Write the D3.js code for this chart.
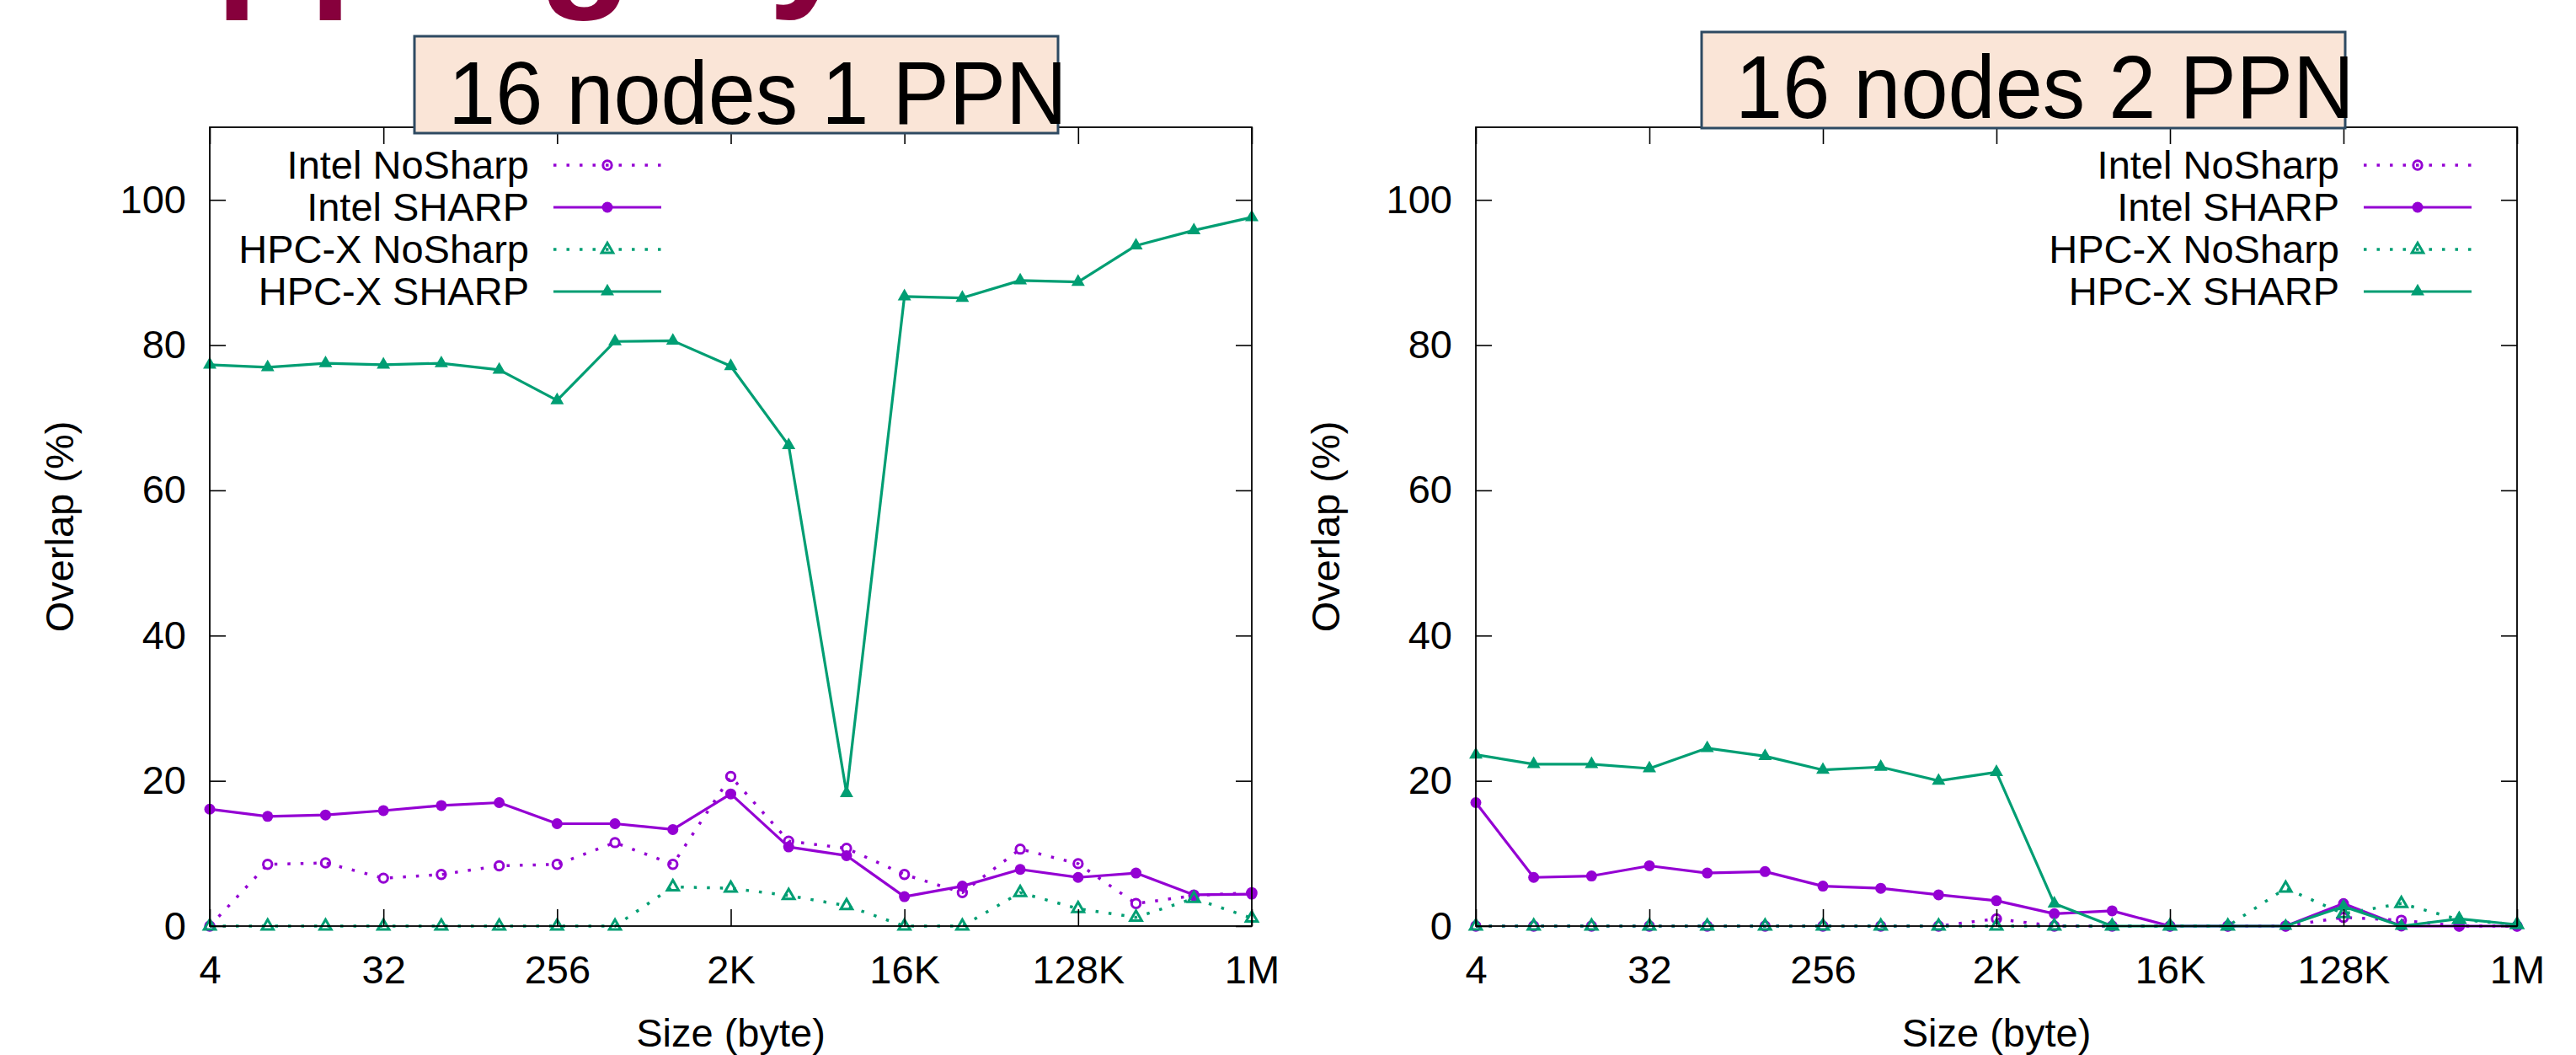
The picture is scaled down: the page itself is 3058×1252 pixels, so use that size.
<!DOCTYPE html>
<html>
<head>
<meta charset="utf-8">
<script src="https://cdn.jsdelivr.net/npm/d3@7"></script>
<style>
  body { margin: 0; background: #fff; }
  text { font-family: "Liberation Sans", Arial, Helvetica, sans-serif; }
</style>
</head>
<body>
<svg id="chart" width="3058" height="1252"></svg>
<script>
// message sizes (bytes), x axis is log2
var sizes = [4, 8, 16, 32, 64, 128, 256, 512, 1024, 2048, 4096, 8192, 16384, 32768, 65536, 131072, 262144, 524288, 1048576];
var tick_values = [4, 32, 256, 2048, 16384, 131072, 1048576];
var tick_labels = ["4", "32", "256", "2K", "16K", "128K", "1M"];
var y_ticks = [0, 20, 40, 60, 80, 100];
var series_names = ["Intel NoSharp", "Intel SHARP", "HPC-X NoSharp", "HPC-X SHARP"];

// 16 nodes 1 PPN
var intel_nosharp_1 = [0, 8.5, 8.7, 6.6, 7.1, 8.3, 8.5, 11.5, 8.5, 20.6, 11.7, 10.7, 7.1, 4.6, 10.6, 8.6, 3.1, 4.2, 4.6];
var intel_sharp_1   = [16.1, 15.1, 15.3, 15.9, 16.6, 17.0, 14.1, 14.1, 13.3, 18.2, 10.9, 9.7, 4.05, 5.5, 7.8, 6.7, 7.3, 4.3, 4.4];
var hpcx_nosharp_1  = [0, 0, 0, 0, 0, 0, 0, 0, 5.4, 5.2, 4.2, 2.8, 0, 0, 4.6, 2.4, 1.2, 3.8, 1.1];
var hpcx_sharp_1    = [77.3, 76.95, 77.5, 77.3, 77.5, 76.6, 72.4, 80.5, 80.6, 77.1, 66.2, 18.3, 86.7, 86.5, 88.9, 88.7, 93.7, 95.8, 97.6];

// 16 nodes 2 PPN
var intel_nosharp_2 = [0, 0, 0, 0, 0, 0, 0, 0, 0, 1.0, 0, 0, 0, 0, 0, 1.2, 0.8, 0, 0];
var intel_sharp_2   = [17.0, 6.7, 6.9, 8.3, 7.3, 7.5, 5.5, 5.2, 4.3, 3.5, 1.7, 2.1, 0, 0, 0, 3.1, 0, 0, 0];
var hpcx_nosharp_2  = [0, 0, 0, 0, 0, 0, 0, 0, 0, 0, 0, 0, 0, 0, 5.2, 1.7, 3.1, 0.9, 0.2];
var hpcx_sharp_2    = [23.6, 22.3, 22.3, 21.7, 24.5, 23.4, 21.5, 21.9, 20.0, 21.2, 3.1, 0, 0, 0, 0, 2.7, 0, 1.0, 0.2];

var styles = [
    { color: "#9400d3", dotted: true,  shape: "circle",   filled: false },
    { color: "#9400d3", dotted: false, shape: "circle",   filled: true },
    { color: "#009e73", dotted: true,  shape: "triangle", filled: false },
    { color: "#009e73", dotted: false, shape: "triangle", filled: true }
];

var panels = [
    { left: 249, right: 1486, title: "16 nodes 1 PPN", box: [492, 43, 764, 115], title_x: 532, title_y: 147, legend_x: 628,
      data: [intel_nosharp_1, intel_sharp_1, hpcx_nosharp_1, hpcx_sharp_1] },
    { left: 1752, right: 2988, title: "16 nodes 2 PPN", box: [2020, 38, 764, 114], title_x: 2060, title_y: 140, legend_x: 2777,
      data: [intel_nosharp_2, intel_sharp_2, hpcx_nosharp_2, hpcx_sharp_2] }
];

var top_y = 151, bottom_y = 1099;
var font_size = 47;

var svg = d3.select("#chart");

// cut-off slide heading, only the descenders reach into the picture
var hd_family = "'Liberation Sans', Arial, sans-serif";
var ctx = document.createElement("canvas").getContext("2d");
ctx.font = "bold 100px " + hd_family;
var hd_size = 111 / (ctx.measureText("p").width / 100);
ctx.font = "bold " + hd_size + "px " + hd_family;
var p_m = ctx.measureText("p");
var hd_x = 267 + p_m.actualBoundingBoxLeft - ctx.measureText("Overla").width;
var hd_y = 24 - p_m.actualBoundingBoxDescent;
svg.append("text")
    .attr("x", hd_x)
    .attr("y", hd_y)
    .attr("font-family", hd_family)
    .attr("font-size", hd_size)
    .attr("font-weight", "bold")
    .attr("fill", "#87003c")
    .text("Overlapping by");

function draw_marker(g, st, cx, cy) {
    var m;
    if (st.shape === "circle") {
        m = g.append("circle")
            .attr("cx", cx).attr("cy", cy)
            .attr("r", st.filled ? 6.5 : 5.2);
    } else {
        m = g.append("path")
            .attr("d", d3.symbol(d3.symbolTriangle, st.filled ? 110 : 80)())
            .attr("transform", "translate(" + cx + "," + cy + ")");
    }
    if (st.filled) {
        m.attr("fill", st.color).attr("stroke", "none");
    } else {
        m.attr("fill", "none").attr("stroke", st.color).attr("stroke-width", 3);
    }
}

function style_line(p, st) {
    p.attr("fill", "none")
        .attr("stroke", st.color)
        .attr("stroke-width", st.dotted ? 3.5 : 3.2)
        .attr("stroke-linejoin", "round");
    if (st.dotted) p.attr("stroke-dasharray", "3.5,12");
}

panels.forEach(function (pan) {
    var x = d3.scaleLog().base(2).domain([4, 1048576]).range([pan.left, pan.right]);
    var y = d3.scaleLinear().domain([0, 110]).range([bottom_y, top_y]);
    var g = svg.append("g");

    // series
    pan.data.forEach(function (vals, si) {
        var st = styles[si];
        var pts = sizes.map(function (s, i) { return { size: s, v: vals[i] }; });
        var line = d3.line()
            .x(function (d) { return x(d.size); })
            .y(function (d) { return y(d.v); });
        style_line(g.append("path").datum(pts).attr("d", line), st);
        pts.forEach(function (d) { draw_marker(g, st, x(d.size), y(d.v)); });
    });

    // axes, ticks pointing inward
    var ax_b = g.append("g").attr("transform", "translate(0," + bottom_y + ")")
        .call(d3.axisBottom(x).tickValues(tick_values)
            .tickFormat(function (d, i) { return tick_labels[i]; })
            .tickSizeInner(-20).tickSizeOuter(0).tickPadding(34.5));
    var ax_t = g.append("g").attr("transform", "translate(0," + top_y + ")")
        .call(d3.axisTop(x).tickValues(tick_values).tickFormat("")
            .tickSizeInner(-20).tickSizeOuter(0));
    var ax_l = g.append("g").attr("transform", "translate(" + pan.left + ",0)")
        .call(d3.axisLeft(y).tickValues(y_ticks)
            .tickSizeInner(-19).tickSizeOuter(0).tickPadding(28));
    var ax_r = g.append("g").attr("transform", "translate(" + pan.right + ",0)")
        .call(d3.axisRight(y).tickValues(y_ticks).tickFormat("")
            .tickSizeInner(-19).tickSizeOuter(0));
    [ax_b, ax_t, ax_l, ax_r].forEach(function (a) {
        a.select(".domain").remove();
        a.selectAll(".tick line").attr("stroke", "#000").attr("stroke-width", 1.6);
        a.selectAll(".tick text")
            .attr("font-size", font_size)
            .attr("font-family", "Liberation Sans, Arial, sans-serif")
            .attr("fill", "#000");
    });

    g.append("rect")
        .attr("x", pan.left).attr("y", top_y)
        .attr("width", pan.right - pan.left).attr("height", bottom_y - top_y)
        .attr("fill", "none").attr("stroke", "#000").attr("stroke-width", 1.8);

    // axis titles
    g.append("text")
        .attr("x", (pan.left + pan.right) / 2).attr("y", 1242)
        .attr("text-anchor", "middle").attr("font-size", font_size)
        .text("Size (byte)");
    g.append("text")
        .attr("transform", "translate(" + (pan.left - 162) + "," + (top_y + bottom_y) / 2 + ") rotate(-90)")
        .attr("text-anchor", "middle").attr("font-size", font_size)
        .text("Overlap (%)");

    // legend
    series_names.forEach(function (name, si) {
        var st = styles[si];
        var cy = 196 + si * 50;
        g.append("text")
            .attr("x", pan.legend_x).attr("y", cy).attr("dy", "0.35em")
            .attr("text-anchor", "end").attr("font-size", font_size)
            .text(name);
        var lx0 = pan.legend_x + 29, lx1 = lx0 + 128;
        style_line(g.append("line")
            .attr("x1", lx0).attr("x2", lx1).attr("y1", cy).attr("y2", cy), st);
        draw_marker(g, st, (lx0 + lx1) / 2, cy);
    });

    // title box
    g.append("rect")
        .attr("x", pan.box[0]).attr("y", pan.box[1])
        .attr("width", pan.box[2]).attr("height", pan.box[3])
        .attr("fill", "#fae5d7").attr("stroke", "#2e4a62").attr("stroke-width", 3);
    g.append("text")
        .attr("x", pan.title_x).attr("y", pan.title_y)
        .attr("font-family", "Lato, 'Open Sans', sans-serif")
        .attr("font-size", 105)
        .attr("textLength", 735).attr("lengthAdjust", "spacingAndGlyphs")
        .attr("fill", "#000")
        .text(pan.title);
});
</script>
</body>
</html>
